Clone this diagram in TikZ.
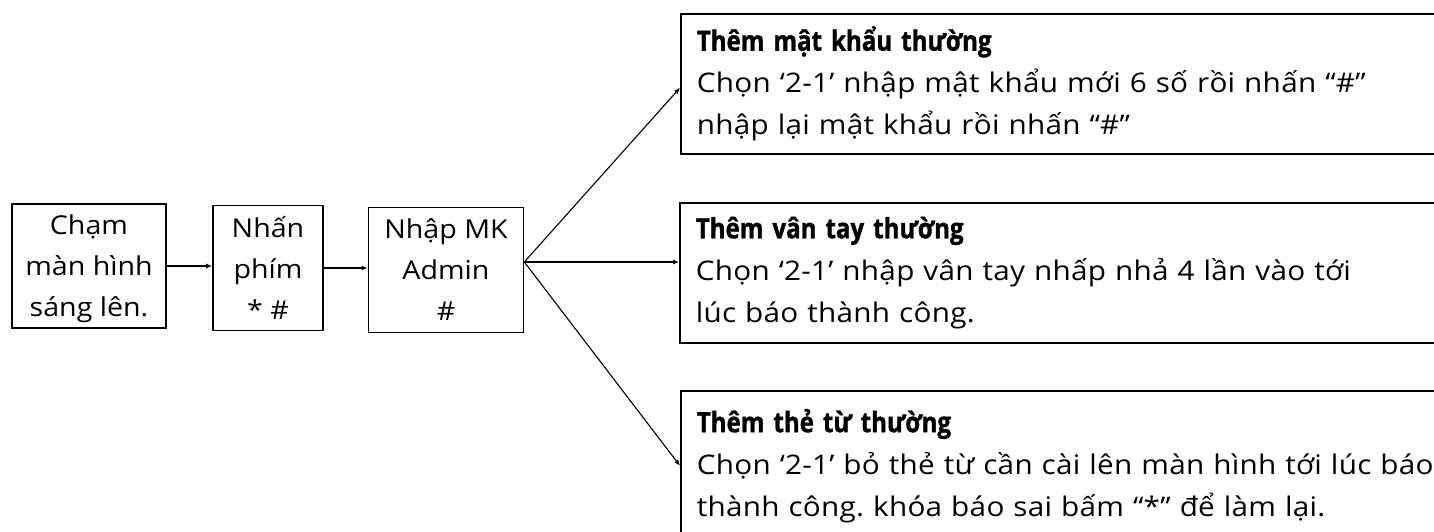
\documentclass[tikz,border=0pt]{standalone}
\usepackage{fontspec}
\setmainfont{Open Sans}[FakeStretch=1.1]
\newfontfamily\headfont{Open Sans}[FakeStretch=0.86,BoldFeatures={FakeBold=1.2}]
\newcommand\headline[1]{{\fontsize{28}{42}\headfont\bfseries #1}}
\frenchspacing
\usetikzlibrary{arrows.meta,positioning}

\begin{document}
\begin{tikzpicture}[x=1pt,y=-1pt,
  stepbox/.style={draw,line width=1.6pt,align=center,inner sep=0pt,font=\fontsize{26}{41}\selectfont},
  infobox/.style={draw,line width=1.6pt,anchor=north west,align=left,text width=760pt,inner xsep=16pt,inner ysep=0pt,minimum height=140pt,font=\fontsize{27}{42}\selectfont\addfontfeature{LetterSpace=1}},
  link/.style={-{Latex[length=6pt,width=5pt]},line width=1.1pt}]
\useasboundingbox (0,0) rectangle (1434,532);
\clip (0,0) rectangle (1434,532);
% left chain
\node[stepbox,minimum width=154pt,minimum height=124pt,text depth=0pt] (cham) at (89,266) {Chạm\\màn hình\\sáng lên.};
\node[stepbox,minimum width=110pt,minimum height=125pt] (phim) at (268,268) {Nhấn\\phím\\* \#};
\node[stepbox,minimum width=155pt,minimum height=125pt] (nhapmk) at (446,270) {Nhập MK\\Admin\\\#};
\draw[link] (cham.east) -- (cham.east -| phim.west);
\draw[link] (phim.east) -- (phim.east -| nhapmk.west);
% right boxes
\node[infobox] (matkhau) at (680,13) {\headline{Thêm mật khẩu thường}\\Chọn ‘2-1’ nhập mật khẩu mới 6 số rồi nhấn “\#”\\nhập lại mật khẩu rồi nhấn “\#”};
\node[infobox] (vantay) at (679,202) {\headline{Thêm vân tay thường}\\Chọn ‘2-1’ nhập vân tay nhấp nhả 4 lần vào tới\\lúc báo thành công.};
\node[infobox,minimum height=150pt] (theTu) at (680,390) {\headline{Thêm thẻ từ thường}\\Chọn ‘2-1’ bỏ thẻ từ cần cài lên màn hình tới lúc báo\\thành công. khóa báo sai bấm “*” để làm lại.};
% fan out
\coordinate (fan) at ([yshift=8pt]nhapmk.east);
\draw[link] (fan) -- ([yshift=-4pt]matkhau.west);
\draw[link] (fan) -- (fan -| vantay.west);
\draw[link] (fan) -- (theTu.west);
\end{tikzpicture}
\end{document}
